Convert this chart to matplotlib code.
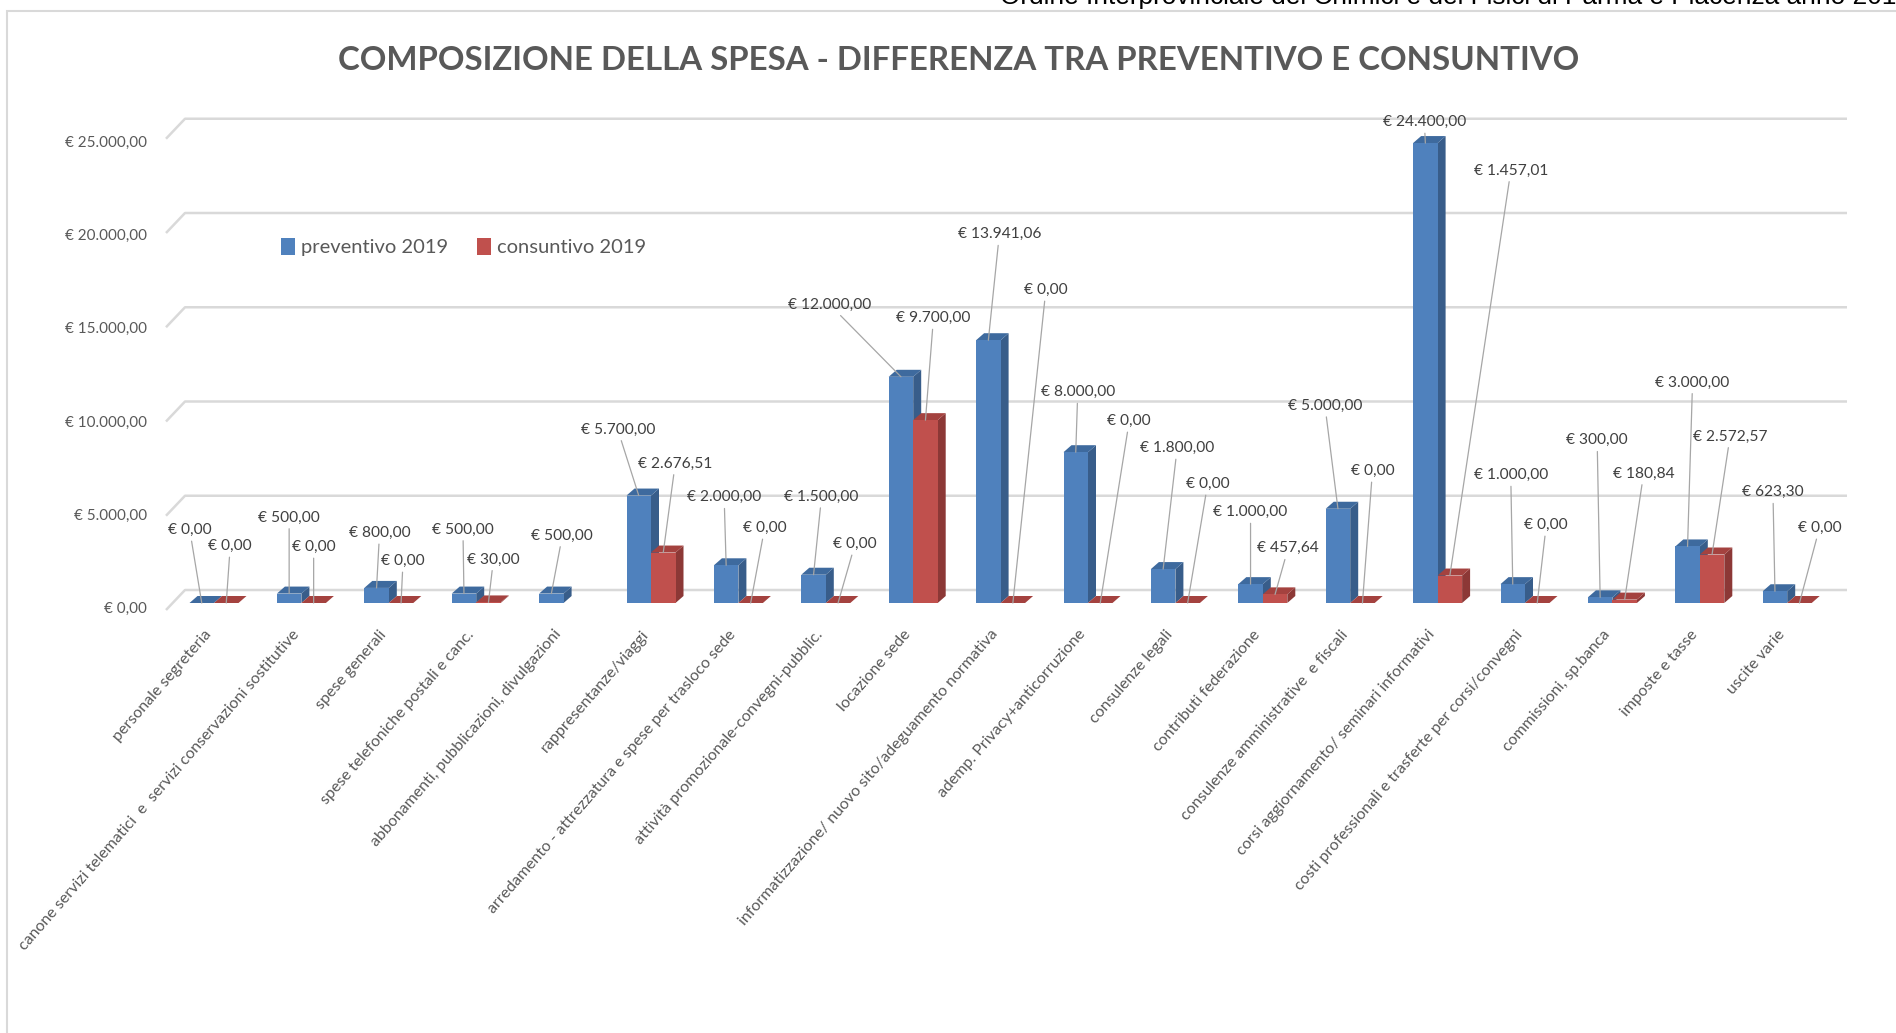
import matplotlib.pyplot as plt
import numpy as np
from matplotlib.patches import Polygon, Rectangle, Patch

# categories and values (EUR)
categories = [
    "personale segreteria",
    "canone servizi telematici  e  servizi conservazioni sostitutive",
    "spese generali",
    "spese telefoniche postali e canc.",
    "abbonamenti, pubblicazioni, divulgazioni",
    "rappresentanze/viaggi",
    "arredamento - attrezzatura e spese per trasloco sede",
    "attività promozionale-convegni-pubblic.",
    "locazione sede",
    "informatizzazione/ nuovo sito/adeguamento normativa",
    "ademp. Privacy+anticorruzione",
    "consulenze legali",
    "contributi federazione",
    "consulenze amministrative  e fiscali",
    "corsi aggiornamento/ seminari informativi",
    "costi professionali e trasferte per corsi/convegni",
    "commissioni, sp.banca",
    "imposte e tasse",
    "uscite varie",
]
preventivo = [0, 500, 800, 500, 500, 5700, 2000, 1500, 12000, 13941.06,
              8000, 1800, 1000, 5000, 24400, 1000, 300, 3000, 623.30]
consuntivo = [0, 0, 0, 30, None, 2676.51, 0, 0, 9700, 0,
              0, 0, 457.64, 0, 1457.01, 0, 180.84, 2572.57, 0]
yticks = [0, 5000, 10000, 15000, 20000, 25000]
series_names = ["preventivo 2019", "consuntivo 2019"]

# label placement (pixel offsets of each value label from its bar top)
blue_offsets = [(-12, 73), (0, 76), (3, 55), (-1, 64), (11, 58), (-21, 66), (-2, 68),
                (8, 78), (-71, 72), (11, 106), (2, 60), (14, 121), (0, 72), (-13, 103),
                (-1, 21), (-2, 109), (-3, 157), (5, 164), (-2, 99)]
red_offsets = [(4, 57), (0, 56), (2, 42), (5, 43), None, (12, 89), (14, 75),
               (17, 59), (8, 102), (33, 313), (29, 182), (20, 119), (13, 46), (10, 132),
               (61, 405), (9, 78), (19, 126), (18, 118), (20, 75)]

BLUE, BLUE_SIDE, BLUE_TOP = "#4F81BD", "#385D8A", "#3E6A9E"
RED, RED_SIDE, RED_TOP = "#C0504D", "#8C3836", "#A4423F"
GRID = "#D9D9D9"
TXT = "#595959"

W, H = 1896, 1033
fig = plt.figure(figsize=(W / 100, H / 100), dpi=100)
fig.patch.set_facecolor("white")

# axes placed so that group i sits at 214 + 87.4*i px, zero at y=603 px
px_x0, px_step = 214, 87.4
px_y0, px_per_eur = 603, 0.01885
ax_l, ax_r, ax_t, ax_b = 100, 1880, 100, 620
ax = fig.add_axes([ax_l / W, 1 - ax_b / H, (ax_r - ax_l) / W, (ax_b - ax_t) / H])
ax.set_xlim((ax_l - px_x0) / px_step, (ax_r - px_x0) / px_step)
ax.set_ylim((px_y0 - ax_b) / px_per_eur, (px_y0 - ax_t) / px_per_eur)
ax.axis("off")

bw = 24.5 / px_step          # bar front width
ddx = 8 / px_step            # bar depth
ddy = 7 / px_per_eur
back_dx_l = (185 - px_x0) / px_step
front_dx_l = (166 - px_x0) / px_step
right_end = (1847 - px_x0) / px_step
back_dy = (px_y0 - 590) / px_per_eur
front_dy = (px_y0 - 610) / px_per_eur


def fmt(v):
    s = f"{v:,.2f}".replace(",", "X").replace(".", ",").replace("X", ".")
    return "€ " + s


# back-wall gridlines with their diagonal on the left
for t in yticks:
    ax.plot([front_dx_l, back_dx_l, right_end], [t + front_dy, t + back_dy, t + back_dy],
            color=GRID, lw=1.8, zorder=1, solid_capstyle="butt")
    ax.text((147 - px_x0) / px_step, t * 0.99 - 330, fmt(t),
            ha="right", va="center", fontsize=11, color=TXT, family="Lato")


def bar3d(x, v, front, side, top, z):
    x0, x1 = x - bw / 2, x + bw / 2
    ax.add_patch(Polygon([(x1, 0), (x1 + ddx, ddy), (x1 + ddx, v + ddy), (x1, v)],
                         closed=True, facecolor=side, edgecolor="none", zorder=z))
    ax.add_patch(Polygon([(x0, v), (x0 + ddx, v + ddy), (x1 + ddx, v + ddy), (x1, v)],
                         closed=True, facecolor=top, edgecolor="none", zorder=z))
    ax.bar(x, v, width=bw, color=front, zorder=z + 0.1, linewidth=0)


idx = np.arange(len(categories))
for i in idx:
    bar3d(i - bw / 2, preventivo[i], BLUE, BLUE_SIDE, BLUE_TOP, 2)
    if consuntivo[i] is not None:
        bar3d(i + bw / 2, consuntivo[i], RED, RED_SIDE, RED_TOP, 3)

leader = dict(arrowstyle="-", color="#A6A6A6", lw=0.9, shrinkA=1, shrinkB=0)
for i in idx:
    ax.annotate(fmt(preventivo[i]), xy=(i - bw / 2, preventivo[i]), xytext=blue_offsets[i],
                textcoords="offset pixels", ha="center", va="center", fontsize=11.2,
                color="#404040", family="Lato", zorder=6, arrowprops=leader)
    if consuntivo[i] is not None:
        ax.annotate(fmt(consuntivo[i]), xy=(i + bw / 2, consuntivo[i]), xytext=red_offsets[i],
                    textcoords="offset pixels", ha="center", va="center", fontsize=11.2,
                    color="#404040", family="Lato", zorder=6, arrowprops=leader)

# category labels
for i, c in enumerate(categories):
    ax.text(i - 5 / px_step, (px_y0 - 632) / px_per_eur, c, rotation=49,
            rotation_mode="anchor", ha="right", va="center", fontsize=11.5,
            color=TXT, family="Lato")

# title, legend, page header and frame
fig.text(959 / W, 1 - 60 / H,
         "COMPOSIZIONE DELLA SPESA - DIFFERENZA TRA PREVENTIVO E CONSUNTIVO",
         ha="center", va="center", fontsize=23.8, fontweight="bold", color=TXT,
         family="Lato")
handles = [Patch(facecolor=BLUE), Patch(facecolor=RED)]
fig.legend(handles, series_names, loc="center left",
           bbox_to_anchor=(263 / W, 1 - 247 / H), ncol=2, frameon=False,
           handlelength=0.7, handleheight=0.9, handletextpad=0.3, columnspacing=1.4,
           prop={"family": "Lato", "size": 14.5}, labelcolor=TXT)
fig.text(1000 / W, 1 - 4 / H,
         "Ordine Interprovinciale dei Chimici e dei Fisici di Parma e Piacenza anno 2019",
         ha="left", va="baseline", fontsize=18.9, color="black",
         family="Liberation Sans")
fig.patches.append(Rectangle((7 / W, -0.1), 1.2, 1 - 11 / H + 0.1,
                             transform=fig.transFigure, fill=False,
                             edgecolor="#D9D9D9", lw=1.5))

fig.savefig("out.png", dpi=100, facecolor="white")
